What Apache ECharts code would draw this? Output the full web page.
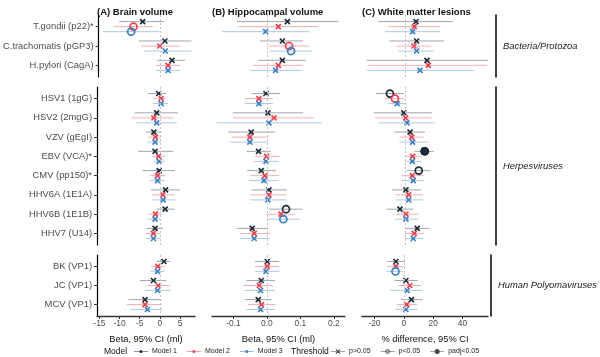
<!DOCTYPE html>
<html>
<head>
<meta charset="utf-8">
<script src="https://cdn.jsdelivr.net/npm/echarts@6/dist/echarts.min.js"></script>
<style>
  html, body { margin: 0; padding: 0; background: #fff; }
  #chart { width: 600px; height: 357px; }
</style>
</head>
<body>
<div id="chart"></div>
<script>
// antigen groups (rows, top to bottom)
const groupNames = ['Bacteria/Protozoa', 'Herpesviruses', 'Human Polyomaviruses']
const groupAntigens = [
  ['T.gondii (p22)*', 'C.trachomatis (pGP3)', 'H.pylori (CagA)'],
  ['HSV1 (1gG)', 'HSV2 (2mgG)', 'VZV (gEgI)', 'EBV (VCA)*', 'CMV (pp150)*', 'HHV6A (1E1A)', 'HHV6B (1E1B)', 'HHV7 (U14)'],
  ['BK (VP1)', 'JC (VP1)', 'MCV (VP1)']
]
const panelTitles = ['(A) Brain volume', '(B) Hippocampal volume', '(C) White matter lesions']
const axisTitles = ['Beta, 95% CI (ml)', 'Beta, 95% CI (ml)', '% difference, 95% CI']
const xTicks = [[-15, -10, -5, 0, 5], [-0.1, 0, 0.1, 0.2], [-20, 0, 20, 40]]
const modelNames = ['Model 1', 'Model 2', 'Model 3']
const thresholdNames = ['p>0.05', 'p<0.05', 'padj<0.05']

// [estimate, lower, upper, threshold (0: p>0.05, 1: p<0.05, 2: padj<0.05)]
const brainM1 = [[-4.5, -10.4, 0.8, 0], [1.1, -5.5, 7.8, 0], [2.9, -0.8, 6.2, 0],
  [-0.3, -2.9, 1.6, 0], [-0.8, -6.2, 4.5, 0], [-1.5, -3.5, 0.4, 0], [-1.2, -5.4, 3.3, 0],
  [-0.2, -4.3, 3.7, 0], [1.4, -2.2, 5.0, 0], [1.3, -0.8, 3.7, 0], [-1.2, -3.3, 0.8, 0],
  [1.0, -0.8, 2.5, 0], [-1.6, -5.0, 1.6, 0], [-3.7, -7.8, 0.4, 0]]
const brainM2 = [[-6.8, -11.8, -2.0, 1], [-0.2, -5.0, 5.0, 0], [1.9, -1.2, 5.0, 0],
  [0.3, -1.6, 1.6, 0], [-1.5, -7.0, 3.3, 0], [-1.1, -2.9, 0.4, 0], [-0.3, -2.1, 1.2, 0],
  [-0.6, -2.5, 1.4, 0], [0.7, -2.1, 3.7, 0], [-1.1, -2.9, 0.4, 0], [-1.6, -3.5, 0.1, 0],
  [-0.5, -2.1, 1.2, 0], [-0.4, -3.3, 2.5, 0], [-3.7, -8.2, 0.4, 0]]
const brainM3 = [[-7.4, -14.6, -0.3, 1], [1.2, -4.1, 7.8, 0], [1.9, -1.2, 5.0, 0],
  [0.3, -1.8, 2.0, 0], [-0.8, -5.8, 4.2, 0], [-1.2, -3.2, 0.4, 0], [-0.2, -1.6, 1.2, 0],
  [-0.6, -2.6, 1.2, 0], [0.8, -1.8, 4.0, 0], [-1.2, -3.1, 0.4, 0], [-1.6, -3.3, 0.1, 0],
  [-0.6, -2.4, 1.2, 0], [-0.6, -3.7, 2.6, 0], [-3.1, -7.2, 0.6, 0]]

const hippoM1 = [[0.061, -0.090, 0.213, 0], [0.046, -0.021, 0.108, 0], [0.046, -0.026, 0.116, 0],
  [-0.003, -0.046, 0.039, 0], [0.003, -0.102, 0.108, 0], [-0.047, -0.115, 0.024, 0], [-0.025, -0.061, 0.011, 0],
  [-0.017, -0.059, 0.027, 0], [0.006, -0.046, 0.059, 0], [0.057, 0.006, 0.106, 1], [-0.044, -0.089, 0.002, 0],
  [0.001, -0.036, 0.037, 0], [-0.017, -0.061, 0.024, 0], [-0.026, -0.066, 0.014, 0]]
const hippoM2 = [[0.034, -0.086, 0.153, 0], [0.066, 0.004, 0.126, 1], [0.034, -0.041, 0.108, 0],
  [-0.024, -0.066, 0.017, 0], [0.021, -0.101, 0.140, 0], [-0.051, -0.105, 0.002, 0], [-0.001, -0.036, 0.037, 0],
  [-0.006, -0.051, 0.037, 0], [0.006, -0.049, 0.059, 0], [0.042, -0.003, 0.084, 0], [-0.038, -0.080, 0.011, 0],
  [0.001, -0.036, 0.037, 0], [-0.023, -0.071, 0.018, 0], [-0.016, -0.056, 0.027, 0]]
const hippoM3 = [[-0.004, -0.135, 0.126, 0], [0.072, 0.009, 0.133, 1], [0.026, -0.051, 0.103, 0],
  [-0.024, -0.066, 0.018, 0], [0.006, -0.150, 0.163, 0], [-0.051, -0.110, 0.003, 0], [-0.003, -0.038, 0.037, 0],
  [-0.009, -0.053, 0.034, 0], [0.003, -0.049, 0.057, 0], [0.049, 0.003, 0.099, 1], [-0.038, -0.080, 0.008, 0],
  [-0.003, -0.036, 0.037, 0], [-0.019, -0.066, 0.024, 0], [-0.019, -0.061, 0.024, 0]]

const wmlM1 = [[6.9, -17.8, 31.0, 0], [7.3, -10.6, 25.4, 0], [14.1, -25.4, 54.0, 0],
  [-10.2, -19.3, -1.1, 1], [-1.1, -20.8, 17.2, 0], [3.0, -7.3, 12.8, 0], [12.6, 5.8, 18.7, 2],
  [8.7, 0.8, 16.1, 1], [0.3, -9.0, 10.2, 0], [-3.6, -12.3, 5.2, 0], [7.7, -0.3, 15.7, 0],
  [-5.4, -11.3, 0.8, 0], [1.4, -6.2, 9.5, 0], [5.2, -1.9, 12.8, 0]]
const wmlM2 = [[5.8, -11.3, 22.6, 0], [5.6, -5.8, 16.7, 0], [15.0, -24.3, 53.5, 0],
  [-6.9, -13.4, -0.5, 1], [0.1, -19.7, 17.2, 0], [4.1, -3.6, 11.8, 0], [4.7, -0.3, 10.7, 0],
  [4.5, -2.5, 11.8, 0], [2.1, -6.9, 11.8, 0], [0.3, -6.2, 8.5, 0], [5.8, -0.5, 12.3, 0],
  [-5.4, -11.3, 0.4, 0], [4.1, -3.6, 11.8, 0], [2.0, -4.7, 9.1, 0]]
const wmlM3 = [[4.7, -13.4, 22.6, 0], [7.3, -4.7, 18.3, 0], [9.5, -25.4, 44.8, 0],
  [-5.4, -11.3, 0.5, 0], [1.0, -17.5, 19.3, 0], [4.7, -4.0, 15.0, 0], [4.5, -0.3, 10.5, 0],
  [5.1, -2.5, 12.5, 0], [2.1, -6.2, 11.4, 0], [0.3, -6.9, 8.5, 0], [5.1, -0.3, 11.8, 0],
  [-5.7, -11.7, -0.7, 1], [2.3, -9.0, 12.8, 0], [1.4, -5.8, 9.1, 0]]

const panelData = [[brainM1, brainM2, brainM3], [hippoM1, hippoM2, hippoM3], [wmlM1, wmlM2, wmlM3]]

// layout
const FONT = 'Liberation Sans, Arial, sans-serif'
const panelX = [[97, 195], [212, 345], [362, 493]]
const panelRange = [[-15.6, 8.7], [-0.164, 0.233], [-28.5, 57.4]]
const groupY = [[15, 77], [87, 245], [255, 316]]
const colors = ['#1c2b39', '#e8404e', '#3d7fc0']
const lineColors = ['rgba(28,43,57,0.42)', 'rgba(232,64,78,0.42)', 'rgba(61,127,192,0.42)']
const dodge = [-0.26, 0, 0.26]

function makeRender(m) {
  return function (params, api) {
    const y = api.value(3)
    const pt = api.coord([api.value(0), y])
    const lo = api.coord([api.value(1), y])
    const hi = api.coord([api.value(2), y])
    const sig = api.value(4)
    const kids = [{
      type: 'line',
      shape: { x1: lo[0], y1: lo[1], x2: hi[0], y2: hi[1] },
      style: { stroke: lineColors[m], lineWidth: 1 }
    }]
    if (sig === 0) {
      const s = 2.5
      kids.push({ type: 'line', shape: { x1: pt[0] - s, y1: pt[1] - s, x2: pt[0] + s, y2: pt[1] + s },
        style: { stroke: colors[m], lineWidth: 1.6 } })
      kids.push({ type: 'line', shape: { x1: pt[0] - s, y1: pt[1] + s, x2: pt[0] + s, y2: pt[1] - s },
        style: { stroke: colors[m], lineWidth: 1.6 } })
    } else if (sig === 1) {
      kids.push({ type: 'circle', shape: { cx: pt[0], cy: pt[1], r: 3.5 },
        style: { fill: null, stroke: colors[m], lineWidth: 1.7 } })
    } else {
      kids.push({ type: 'circle', shape: { cx: pt[0], cy: pt[1], r: 4 },
        style: { fill: colors[m], stroke: '#0d141b', lineWidth: 1 } })
    }
    return { type: 'group', children: kids }
  }
}

const grids = []
const xAxes = []
const yAxes = []
const series = []
const titles = []
const stripGrid = []

panelTitles.forEach((t, p) => {
  titles.push({
    text: t, left: panelX[p][0], top: 7, padding: 0,
    textStyle: { fontSize: 9.5, fontWeight: 'bold', color: '#111', fontFamily: FONT }
  })
})

let start = 0
groupAntigens.forEach((names, g) => {
  const n = names.length
  const rows = names.map((_, i) => i + 1)
  for (let p = 0; p < 3; p++) {
    const gi = grids.length
    if (p === 2) stripGrid.push(gi)
    grids.push({
      left: panelX[p][0], width: panelX[p][1] - panelX[p][0],
      top: groupY[g][0], height: groupY[g][1] - groupY[g][0]
    })
    const bottom = g === 2
    xAxes.push({
      type: 'value', gridIndex: gi, min: panelRange[p][0], max: panelRange[p][1],
      splitLine: { show: false },
      axisLine: { show: bottom, onZero: false, lineStyle: { color: '#333', width: 1.3 } },
      axisTick: { show: bottom, customValues: xTicks[p], length: 3, lineStyle: { color: '#333' } },
      axisLabel: {
        show: bottom, customValues: xTicks[p], margin: 4,
        fontSize: 8.4, color: '#4d4d4d', fontFamily: FONT,
        formatter: v => p === 1 ? v.toFixed(1) : String(v)
      },
      name: bottom ? axisTitles[p] : '', nameLocation: 'middle', nameGap: 19,
      nameTextStyle: { fontSize: 9.3, color: '#111', fontFamily: FONT }
    })
    yAxes.push({
      type: 'value', gridIndex: gi, inverse: true, min: 0.4, max: n + 0.6,
      splitLine: { show: false },
      axisLine: { show: p === 0, onZero: false, lineStyle: { color: '#000', width: 1.2 } },
      axisTick: { show: p === 0, customValues: rows, length: 3, lineStyle: { color: '#333' } },
      axisLabel: {
        show: p === 0, customValues: rows, margin: 5,
        fontSize: 9.4, color: '#4d4d4d', fontFamily: FONT,
        formatter: v => names[Math.round(v) - 1]
      }
    })
    // dashed zero reference
    series.push({
      type: 'line', xAxisIndex: gi, yAxisIndex: gi, data: [], z: 1, silent: true,
      markLine: {
        silent: true, symbol: 'none', label: { show: false }, animation: false,
        lineStyle: { color: '#c4c4c4', type: [2, 2], width: 1 },
        data: [{ xAxis: 0 }]
      }
    })
    for (let m = 0; m < 3; m++) {
      const src = panelData[p][m]
      const data = names.map((_, i) => {
        const r = src[start + i]
        return [r[0], r[1], r[2], i + 1 + dodge[m], r[3]]
      })
      series.push({
        type: 'custom', name: modelNames[m], xAxisIndex: gi, yAxisIndex: gi, z: 3,
        itemStyle: { color: colors[m] },
        encode: { x: [0, 1, 2], y: 3 },
        renderItem: makeRender(m),
        data: data
      })
    }
  }
  start += n
})

// group strips on the right of panel C
groupAntigens.forEach((names, g) => {
  const n = names.length
  yAxes.push({
    type: 'value', gridIndex: stripGrid[g], position: 'right', offset: 3,
    inverse: true, min: 0.4, max: n + 0.6,
    splitLine: { show: false },
    axisLine: { show: true, onZero: false, lineStyle: { color: '#000', width: 1.5 } },
    axisTick: { show: false },
    axisLabel: {
      customValues: [(n + 1) / 2], margin: 7,
      fontSize: 9.4, fontStyle: 'italic', color: '#1a1a1a', fontFamily: FONT,
      formatter: () => groupNames[g]
    }
  })
})

// legend entries for thresholds
thresholdNames.forEach(t => {
  series.push({ type: 'scatter', name: t, xAxisIndex: 0, yAxisIndex: 0, data: [], itemStyle: { color: '#1a1a1a' } })
})

const iconModel = 'path://M0,4.5H20V5.5H0Z M12.2,5A2.2,2.2 0 1,1 7.8,5A2.2,2.2 0 1,1 12.2,5Z'
const iconCross = 'path://M0,4.5H20V5.5H0Z M7.5,1.5L13.5,7.5L12.5,8.5L6.5,2.5Z M7.5,8.5L6.5,7.5L12.5,1.5L13.5,2.5Z'
const iconOpen = 'path://M0,4.5H20V5.5H0Z M13.3,5A3.3,3.3 0 1,1 6.7,5A3.3,3.3 0 1,1 13.3,5Z M11.9,5A1.9,1.9 0 1,0 8.1,5A1.9,1.9 0 1,0 11.9,5Z'
const iconFull = 'path://M0,4.5H20V5.5H0Z M13.6,5A3.6,3.6 0 1,1 6.4,5A3.6,3.6 0 1,1 13.6,5Z'
const thresholdIcons = [iconCross, iconOpen, iconFull]

const chart = echarts.init(document.getElementById('chart'), null, { renderer: 'canvas' })
chart.setOption({
  animation: false,
  backgroundColor: '#fff',
  title: titles,
  grid: grids,
  xAxis: xAxes,
  yAxis: yAxes,
  legend: [
    {
      left: 134, top: 348, padding: 0, itemGap: 10, itemWidth: 14, itemHeight: 7,
      selectedMode: false,
      textStyle: { fontSize: 7, color: '#222', fontFamily: FONT, padding: [0, 0, 0, -1] },
      data: modelNames.map(name => ({ name, icon: iconModel }))
    },
    {
      left: 331, top: 348, padding: 0, itemGap: 10, itemWidth: 14, itemHeight: 7,
      selectedMode: false,
      textStyle: { fontSize: 7, color: '#222', fontFamily: FONT, padding: [0, 0, 0, -1] },
      data: thresholdNames.map((name, i) => ({ name, icon: thresholdIcons[i] }))
    }
  ],
  graphic: [
    { type: 'text', left: 104, top: 347, style: { text: 'Model', fontSize: 8.5, fill: '#111', fontFamily: FONT } },
    { type: 'text', left: 291, top: 347, style: { text: 'Threshold', fontSize: 8.5, fill: '#111', fontFamily: FONT } }
  ],
  series: series
})
</script>
</body>
</html>
